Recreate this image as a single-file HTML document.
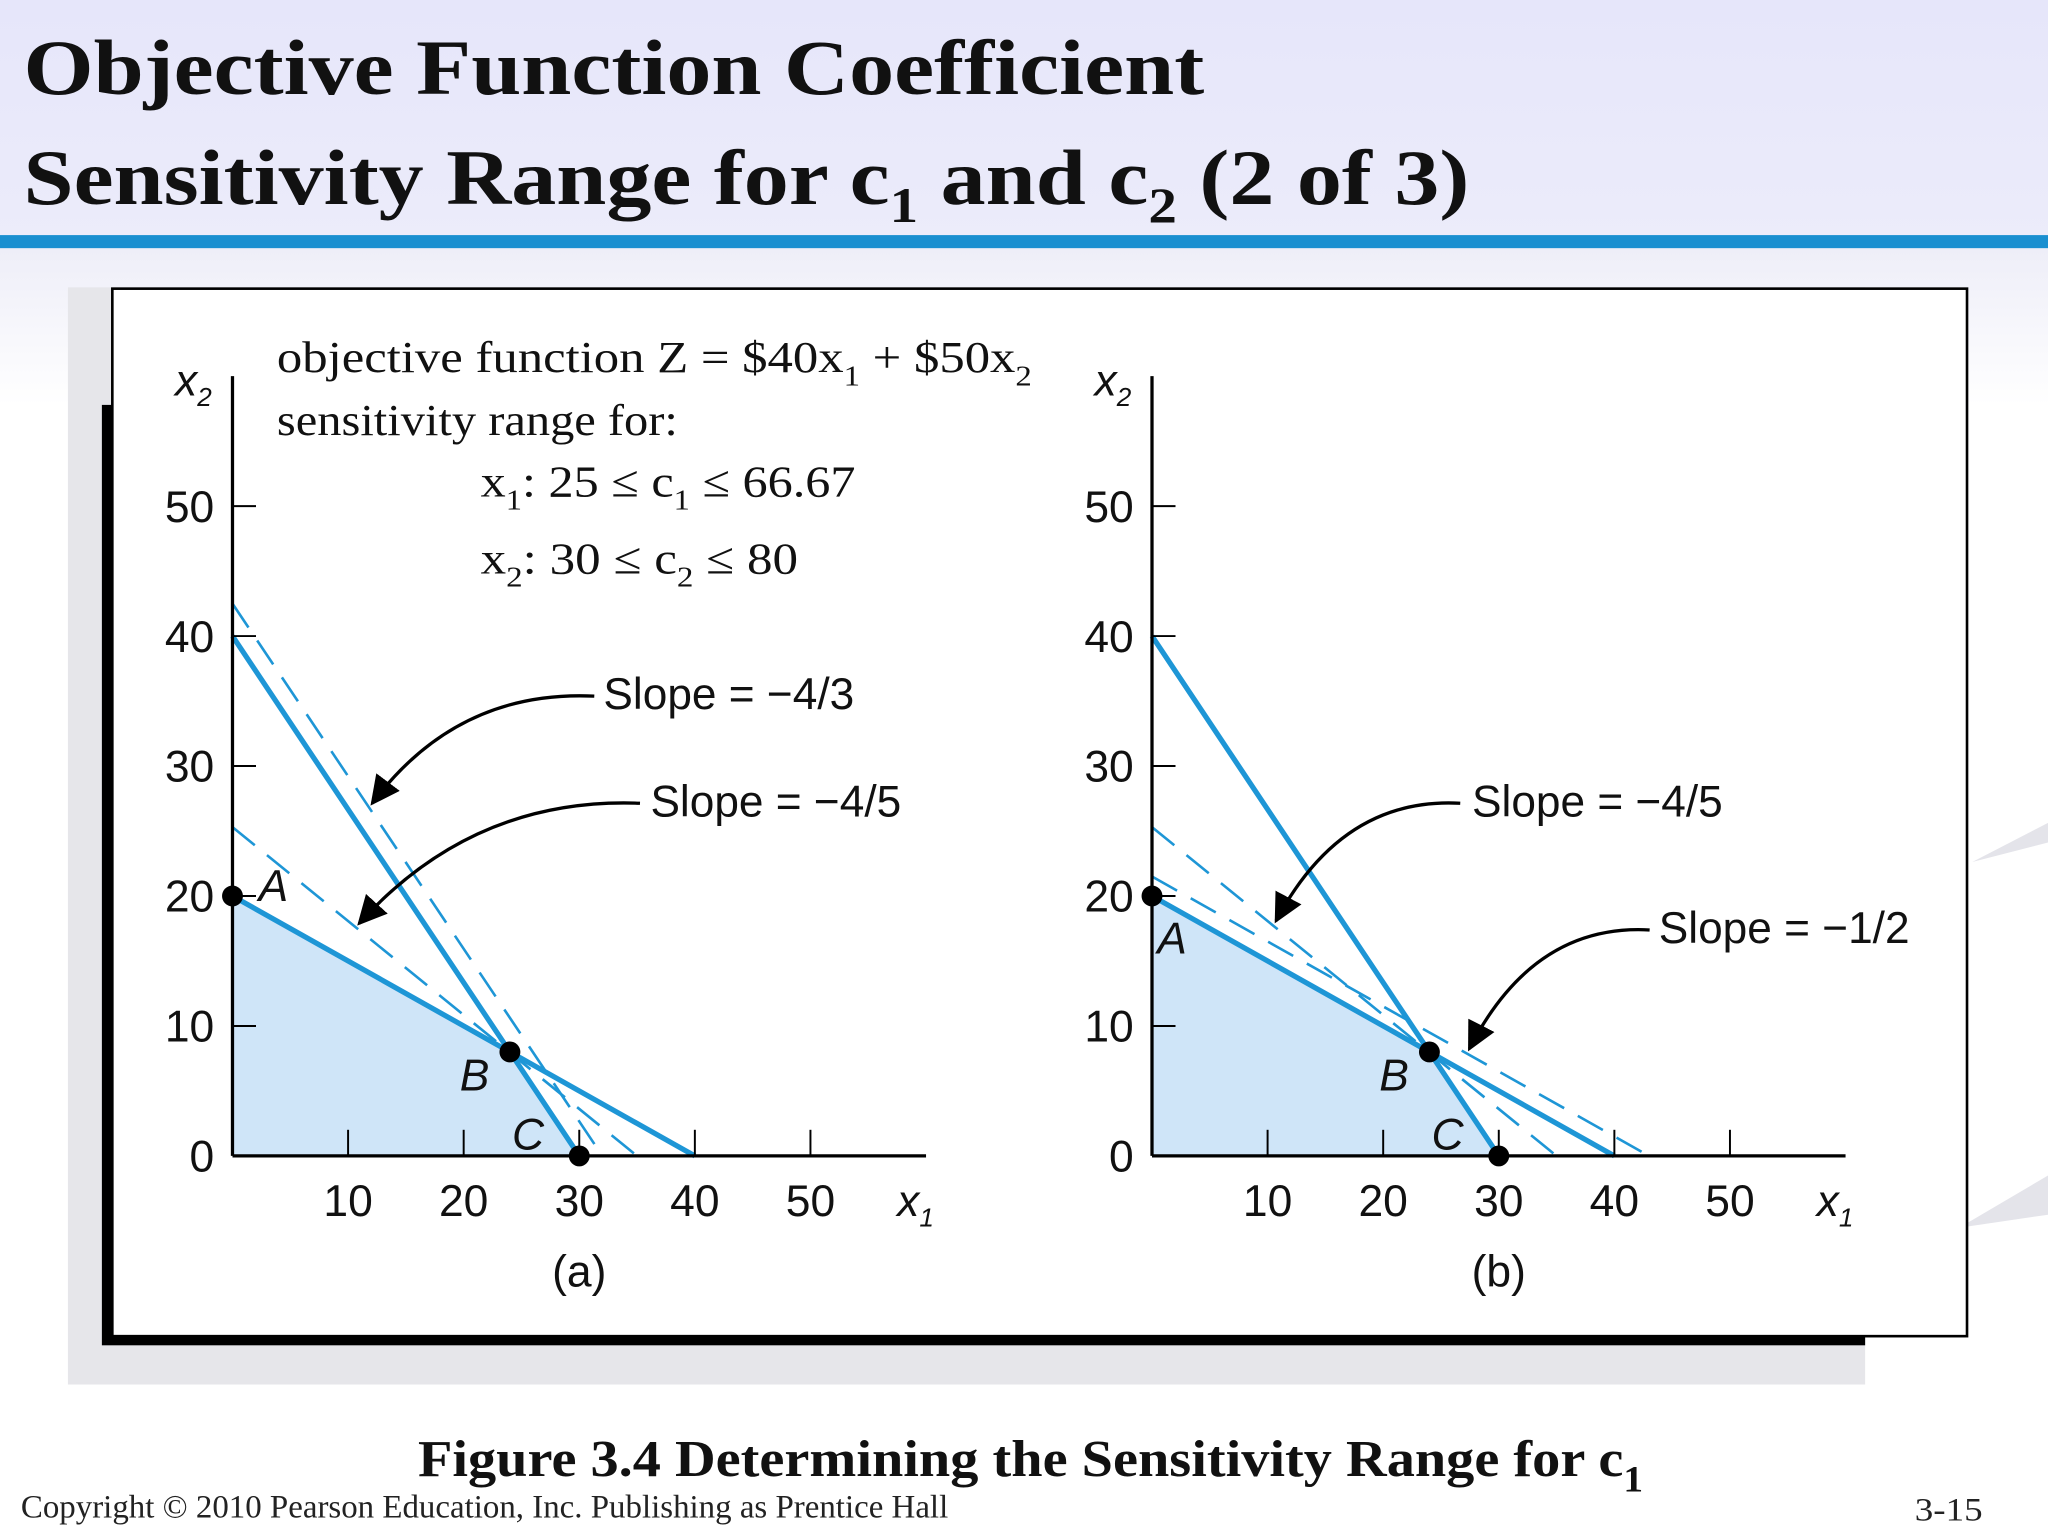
<!DOCTYPE html>
<html><head><meta charset="utf-8"><style>
html,body{margin:0;padding:0;background:#fff;}
svg{display:block;}
.serif{font-family:"Liberation Serif",serif;}
.sans{font-family:"Liberation Sans",sans-serif;}
</style></head><body>
<svg id="s" width="2048" height="1536" viewBox="0 0 1568 1176" xmlns="http://www.w3.org/2000/svg">
<defs>
<linearGradient id="tg" x1="0" y1="0" x2="0" y2="1"><stop offset="0" stop-color="#e6e6fa"/><stop offset="1" stop-color="#ececfa"/></linearGradient>
<linearGradient id="bg" x1="0" y1="0" x2="0" y2="1"><stop offset="0" stop-color="#eeeef8"/><stop offset="1" stop-color="#fff"/></linearGradient>
<marker id="ah" viewBox="0 0 10 10" refX="9" refY="5" markerWidth="9" markerHeight="9" orient="auto"><path d="M0,0 L10,5 L0,10 z" fill="#000"/></marker>
</defs>
<rect x="0" y="0" width="1568" height="190" fill="url(#tg)"/>
<rect x="0" y="190" width="1568" height="120" fill="url(#bg)"/>
<path d="M1568,630 L1510,660 L1568,645 Z M1568,900 L1500,940 L1568,930 Z" fill="#e4e4ea"/>
<text class="serif" x="18" y="72" font-size="60" font-weight="bold" fill="#111" textLength="904" lengthAdjust="spacingAndGlyphs">Objective Function Coefficient</text>
<text class="serif" x="18" y="156" font-size="60" font-weight="bold" fill="#111" textLength="1107" lengthAdjust="spacingAndGlyphs">Sensitivity Range for c<tspan font-size="38" dy="14">1</tspan><tspan dy="-14"> and c</tspan><tspan font-size="38" dy="14">2</tspan><tspan dy="-14"> (2 of 3)</tspan></text>
<rect x="0" y="180" width="1568" height="10" fill="#1a8fd0"/>

<rect x="52" y="220" width="1376" height="840" fill="#e6e6ea"/>
<rect x="78" y="310" width="1350" height="720" fill="#000"/>
<rect x="86" y="221" width="1420" height="802" fill="#fff" stroke="#000" stroke-width="2"/>

<text class="serif" x="212" y="285" font-size="34" fill="#111" textLength="578" lengthAdjust="spacingAndGlyphs">objective function  Z = $40x<tspan font-size="22" dy="10">1</tspan><tspan dy="-10"> + $50x</tspan><tspan font-size="22" dy="10">2</tspan></text>
<text class="serif" x="212" y="333" font-size="34" fill="#111" textLength="307" lengthAdjust="spacingAndGlyphs">sensitivity range for:</text>
<text class="serif" x="368" y="380" font-size="34" fill="#111" textLength="287" lengthAdjust="spacingAndGlyphs">x<tspan font-size="22" dy="10">1</tspan><tspan dy="-10">:  25 ≤ c</tspan><tspan font-size="22" dy="10">1</tspan><tspan dy="-10"> ≤ 66.67</tspan></text>
<text class="serif" x="368" y="439" font-size="34" fill="#111" textLength="243" lengthAdjust="spacingAndGlyphs">x<tspan font-size="22" dy="10">2</tspan><tspan dy="-10">:  30 ≤ c</tspan><tspan font-size="22" dy="10">2</tspan><tspan dy="-10"> ≤ 80</tspan></text>

<g id="charts"></g>

<text class="serif" x="320" y="1130" font-size="40" font-weight="bold" fill="#111" textLength="938" lengthAdjust="spacingAndGlyphs">Figure 3.4 Determining the Sensitivity Range for c<tspan font-size="28" dy="12">1</tspan></text>
<text class="serif" x="16" y="1162" font-size="25" fill="#222" textLength="710" lengthAdjust="spacingAndGlyphs">Copyright © 2010 Pearson Education, Inc. Publishing as Prentice Hall</text>
<text class="serif" x="1466" y="1164" font-size="25" fill="#222" textLength="52" lengthAdjust="spacingAndGlyphs">3-15</text>
</svg>
<script>
const xTicks = [10, 20, 30, 40, 50];
const yTicks = [0, 10, 20, 30, 40, 50];
const constraint1 = [[0, 40], [30, 0]];
const constraint2 = [[0, 20], [40, 0]];
const feasible = [[0, 0], [0, 20], [24, 8], [30, 0]];
const pointsA = [["A", 0, 20], ["B", 24, 8], ["C", 30, 0]];
const dashedA = [[[0, 42.5], [32, 0]], [[0, 25.3], [35, 0]]];
const dashedB = [[[0, 25.3], [35, 0]], [[0, 21.5], [43, 0]]];
const panels = [
  {id: "a", ox: 178, dashed: dashedA, caption: "(a)",
   labels: [["Slope = −4/3", 462, 543, [455, 533, 285, 615]], ["Slope = −4/5", 498, 625, [490, 615, 275, 707]]],
   pl: {A: [198, 690], B: [352, 835], C: [392, 880]}},
  {id: "b", ox: 882, dashed: dashedB, caption: "(b)",
   labels: [["Slope = −4/5", 1127, 625, [1118, 615, 977, 705]], ["Slope = −1/2", 1270, 722, [1263, 712, 1125, 803]]],
   pl: {A: [886, 730], B: [1056, 835], C: [1096, 880]}}
];
const oy = 885, sx = 8.85, sy = 9.95;
const NS = "http://www.w3.org/2000/svg";
const root = document.getElementById("charts");
function mk(tag, attrs, parent) {
  const e = document.createElementNS(NS, tag);
  for (const k in attrs) e.setAttribute(k, attrs[k]);
  (parent || root).appendChild(e);
  return e;
}
panels.forEach(p => {
  const X = v => p.ox + v * sx;
  const Y = v => oy - v * sy;
  const g = mk("g", {});
  
  
  const poly = mk("polygon", {points: feasible.map(q => X(q[0]) + "," + Y(q[1])).join(" "), fill: "#cfe5f8"}, g);
  
  
  p.dashed.forEach(d => {
    const l = mk("line", {x1: X(d[0][0]), y1: Y(d[0][1]), x2: X(d[1][0]), y2: Y(d[1][1]), stroke: "#1e96d6", "stroke-width": 2, "stroke-dasharray": "22,12"}, g);
    
    
  });
  [constraint1, constraint2].forEach((c, i) => {
    const l = mk("line", {x1: X(c[0][0]), y1: Y(c[0][1]), x2: X(c[1][0]), y2: Y(c[1][1]), stroke: "#1e96d6", "stroke-width": 4}, g);
    
    
  });
  const xa = mk("line", {x1: X(0), y1: oy, x2: X(60), y2: oy, stroke: "#000", "stroke-width": 2.5}, g);
  
  
  const ya = mk("line", {x1: X(0), y1: oy, x2: X(0), y2: Y(60), stroke: "#000", "stroke-width": 2.5}, g);
  
  
  xTicks.forEach(t => {
    mk("line", {x1: X(t), y1: oy, x2: X(t), y2: oy - 20, stroke: "#000", "stroke-width": 1.5}, g);
    const tx = mk("text", {x: X(t), y: oy + 46, "font-size": 34, "text-anchor": "middle", class: "sans", fill: "#111"}, g);
    tx.textContent = t;
    
    
  });
  yTicks.forEach(t => {
    if (t > 0) mk("line", {x1: X(0), y1: Y(t), x2: X(0) + 18, y2: Y(t), stroke: "#000", "stroke-width": 1.5}, g);
    const tx = mk("text", {x: X(0) - 14, y: Y(t) + 12, "font-size": 34, "text-anchor": "end", class: "sans", fill: "#111"}, g);
    tx.textContent = t;
    
    
  });
  const xl = mk("text", {x: X(57.5), y: oy + 46, "font-size": 34, "font-style": "italic", class: "sans", fill: "#111"}, g);
  xl.innerHTML = 'x<tspan font-size="20" dy="8">1</tspan>';
  
  
  const yl = mk("text", {x: X(0) - 44, y: Y(58.5), "font-size": 34, "font-style": "italic", class: "sans", fill: "#111"}, g);
  yl.innerHTML = 'x<tspan font-size="20" dy="8">2</tspan>';
  
  
  const cap = mk("text", {x: X(30), y: 985, "font-size": 34, "text-anchor": "middle", class: "sans", fill: "#111"}, g);
  cap.textContent = p.caption;
  
  
  pointsA.forEach(q => {
    const c = mk("circle", {cx: X(q[1]), cy: Y(q[2]), r: 8, fill: "#000"}, g);
    
    
    const lb = mk("text", {x: p.pl[q[0]][0], y: p.pl[q[0]][1], "font-size": 34, "font-style": "italic", class: "sans", fill: "#111"}, g);
    lb.textContent = q[0];
    
    
  });
  p.labels.forEach(lab => {
    const t = mk("text", {x: lab[1], y: lab[2], "font-size": 34, class: "sans", fill: "#111", textLength: 192, lengthAdjust: "spacingAndGlyphs"}, g);
    t.textContent = lab[0];
    
    
    const a = lab[3];
    const mx = (a[0] + a[2]) / 2 - 20, my = a[1] - 5;
    const pth = mk("path", {d: `M${a[0]},${a[1]} Q${mx},${my} ${a[2]},${a[3]}`, fill: "none", stroke: "#000", "stroke-width": 2.5, "marker-end": "url(#ah)"}, g);
    
    
  });
});
</script>
</body></html>
